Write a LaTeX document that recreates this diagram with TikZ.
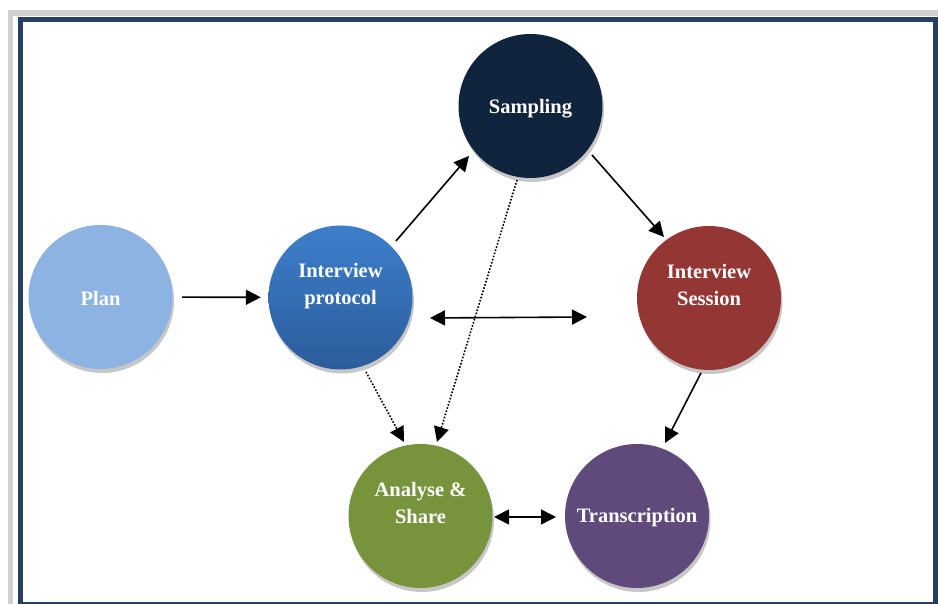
\documentclass[tikz,border=0pt]{standalone}
\usepackage{fontspec}
\setmainfont{Liberation Serif}
\usetikzlibrary{arrows.meta,calc,shadows}
\definecolor{framenavy}{HTML}{243F60}
\definecolor{framegray}{HTML}{D0D0D0}
\definecolor{planblue}{HTML}{8DB3E2}
\definecolor{iptop}{HTML}{3D7FCC}
\definecolor{ipbot}{HTML}{2C5C9A}
\definecolor{sampnavy}{HTML}{10243E}
\definecolor{sesred}{HTML}{943634}
\definecolor{angreen}{HTML}{77933C}
\definecolor{trpurple}{HTML}{604A7B}
\newcommand\baseat[2]{\smash{\raisebox{#1}{#2}}}
\tikzset{
  bubble/.style={circle, minimum size=144pt, inner sep=0pt, text=white,
    font=\fontsize{20.5}{27}\selectfont\bfseries, align=center,
    drop shadow={shadow xshift=1.5pt, shadow yshift=-4pt, fill=black!22, opacity=1}},
  tip/.style={Triangle[length=15pt,width=15pt]},
  arr/.style={line width=1.6pt, -{Triangle[length=15pt,width=15pt]}},
  darr/.style={line width=1.6pt, {Triangle[length=15pt,width=15pt]}-{Triangle[length=15pt,width=15pt]}},
  dotarr/.style={line width=1.6pt, dash pattern=on 1.6pt off 1.7pt, -{Triangle[length=15pt,width=15pt,sep=0pt]}},
}
\begin{document}
\begin{tikzpicture}[x=1pt,y=1pt]
\useasboundingbox (0,0) rectangle (938,604);
\fill[white] (0,0) rectangle (938,604);
% frame
\draw[framegray, line width=5.5pt] (10.5,-10) -- (10.5,591) -- (950,591);
\draw[framenavy, line width=5pt] (20.5,-0.5) rectangle (935.5,584.5);
% nodes
\node[bubble, fill=planblue] (plan) at (100.5,307) {\baseat{-8.5pt}{Plan}};
\node[bubble, top color=iptop, bottom color=ipbot] (ip) at (340.5,306.5) {Interview\\protocol\\\mbox{}};
\node[bubble, fill=sampnavy] (samp) at (530.5,498) {\baseat{-7.3pt}{Sampling}};
\node[bubble, fill=sesred] (ses) at (709,306) {Interview\\Session\\\mbox{}};
\node[bubble, fill=angreen] (an) at (420.5,88) {Analyse \&\\Share\\\mbox{}};
\node[bubble, fill=trpurple] (tr) at (637,88) {\baseat{-6.5pt}{Transcription}};
% connector ends
\coordinate (ipA) at ($(ip)+(55.5,56.5)$);
\coordinate (sampA) at ($(samp)+(-61.5,-50)$);
\coordinate (sampB) at ($(samp)+(61.5,-49)$);
\coordinate (sesA) at ($(ses)+(-45,61)$);
\coordinate (sesB) at ($(ses)+(-8,-75)$);
\coordinate (trA) at ($(tr)+(28,73)$);
\coordinate (ipB) at ($(ip)+(25.5,-74.5)$);
\coordinate (anA) at ($(an)+(-16.5,74)$);
\coordinate (sampC) at ($(samp)+(-13.5,-74)$);
\coordinate (anB) at ($(an)+(16.5,74)$);
\coordinate (ipC) at ($(ip)+(89.5,-20.5)$);
\coordinate (sesC) at ($(ses)+(-122,-19)$);
\coordinate (anC) at ($(an)+(73.5,-1)$);
\coordinate (trB) at ($(tr)+(-81,-1)$);
% connectors
\draw[arr, shorten <=9.5pt, shorten >=7.5pt] (plan) -- (ip);
\draw[arr] (ipA) -- (sampA);
\draw[arr] (sampB) -- (sesA);
\draw[arr] (sesB) -- (trA);
\draw[dotarr] (ipB) -- (anA);
\draw[dotarr] (sampC) -- (anB);
\draw[darr] (ipC) -- (sesC);
\draw[darr] (anC) -- (trB);
\end{tikzpicture}
\end{document}
